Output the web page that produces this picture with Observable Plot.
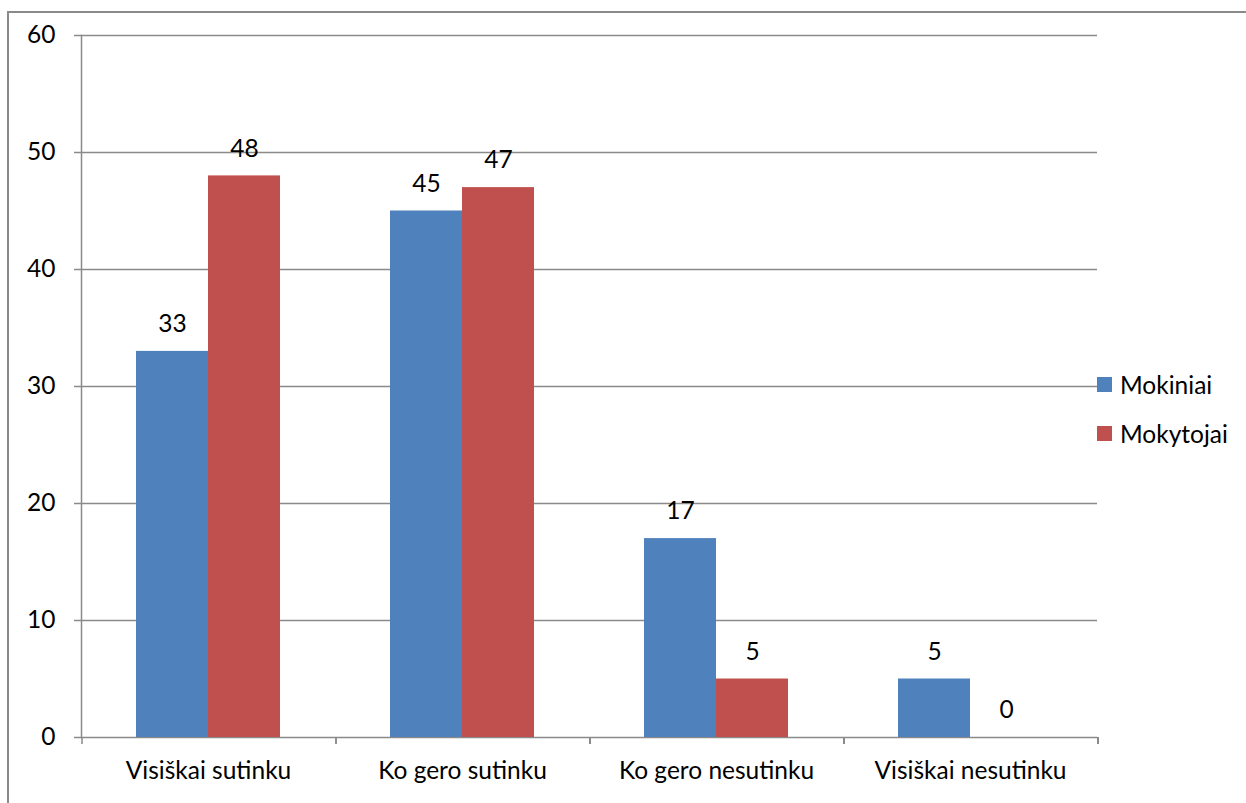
<!DOCTYPE html>
<html>
<head>
<meta charset="utf-8">
<script src="https://cdn.jsdelivr.net/npm/d3@7"></script>
<script src="https://cdn.jsdelivr.net/npm/@observablehq/plot@0.6"></script>
<style>
  html, body { margin: 0; padding: 0; background: #fff; }
  #wrap { position: relative; width: 1246px; height: 803px; overflow: hidden; font-family: Lato, sans-serif; }
  #border { position: absolute; left: 7px; top: 11px; width: 1300px; height: 900px; border: 2px solid #8a8a8a; box-sizing: border-box; }
  #chart { position: absolute; left: 0; top: 0; }
  .leg { position: absolute; left: 1097px; display: flex; align-items: center; font-size: 24.5px; color: #000; }
  .leg .sw { width: 15px; height: 15px; margin-right: 8px; }
</style>
</head>
<body>
<div id="wrap">
  <div id="border"></div>
  <div id="chart"></div>
  <div id="legend"></div>
</div>
<script>
const categories = ["Visiškai sutinku", "Ko gero sutinku", "Ko gero nesutinku", "Visiškai nesutinku"];
const series = ["Mokiniai", "Mokytojai"];
const mokiniai = [33, 45, 17, 5];
const mokytojai = [48, 47, 5, 0];
const colors = ["#4F81BD", "#C0504D"];
const yTicks = [0, 10, 20, 30, 40, 50, 60];

const data = [];
categories.forEach((c, i) => {
  data.push({cat: c, series: series[0], value: mokiniai[i]});
  data.push({cat: c, series: series[1], value: mokytojai[i]});
});

const gray = "#8a8a8a";

// short tick marks at category boundaries on the bottom axis
function boundaryTicks(index, scales, values, dims) {
  const g = d3.create("svg:g").attr("stroke", gray).attr("stroke-width", 1.5);
  const fx = scales.fx;
  const y0 = dims.height - dims.marginBottom;
  const xs = categories.map(c => fx(c));
  xs.push(fx(categories[categories.length - 1]) + fx.bandwidth());
  for (const x of xs) {
    g.append("line").attr("x1", x).attr("x2", x).attr("y1", y0).attr("y2", y0 + 7);
  }
  return g.node();
}

const plot = Plot.plot({
  width: 1246,
  height: 803,
  marginLeft: 80,
  marginRight: 148,
  marginTop: 35,
  marginBottom: 66,
  style: {fontFamily: "Lato, sans-serif", fontSize: "24.5px", color: "#000", background: "transparent"},
  fx: {domain: categories, padding: 0, label: null},
  x: {domain: series, paddingInner: 0, paddingOuter: 0.74, axis: null},
  y: {domain: [0, 60], label: null},
  color: {domain: series, range: colors},
  marks: [
    Plot.gridY(yTicks, {stroke: gray, strokeOpacity: 1, strokeWidth: 1.5}),
    Plot.frame({anchor: "left", facetAnchor: "left", stroke: gray, strokeWidth: 1.5}),
    Plot.axisY(yTicks, {tickSize: 7, tickPadding: 19, stroke: gray, strokeWidth: 1.5, fill: "#000", label: null, tickFormat: d => d}),
    Plot.axisFx({anchor: "bottom", tickSize: 0, tickPadding: 24, label: null, fill: "#000"}),
    Plot.barY(data, {fx: "cat", x: "series", y: "value", fill: "series"}),
    Plot.text(data, {fx: "cat", x: "series", y: "value", text: d => String(d.value), dy: -27, fill: "#000"}),
    boundaryTicks
  ]
});
document.getElementById("chart").appendChild(plot);

const legend = document.getElementById("legend");
const legTops = [370, 419];
series.forEach((s, i) => {
  const div = document.createElement("div");
  div.className = "leg";
  div.style.top = legTops[i] + "px";
  div.innerHTML = `<span class="sw" style="background:${colors[i]}"></span><span>${s}</span>`;
  legend.appendChild(div);
});
</script>
</body>
</html>
